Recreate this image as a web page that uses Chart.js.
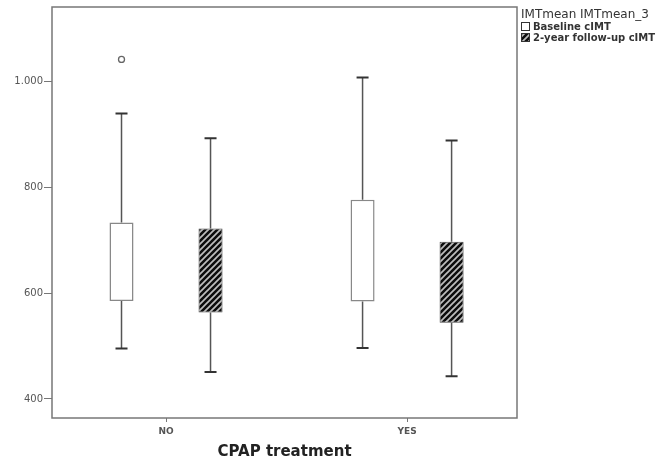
<!DOCTYPE html>
<html>
<head>
<meta charset="utf-8">
<script src="https://cdn.jsdelivr.net/npm/chart.js@4.4.0/dist/chart.umd.min.js"></script>
<style>
  html, body { margin: 0; background: #fff; }
  #contenedor { width: 668px; height: 463px; }
</style>
</head>
<body>
<div id="contenedor"><canvas id="grafica"></canvas></div>
<script>
const grupos = ['NO', 'YES'];
const posiciones = [0, 1];

// Baseline cIMT
const baseMin = [495, 496];
const baseQ1 = [585, 584];
const baseQ3 = [733, 776];
const baseMax = [939, 1007];
const baseAtipicos = [[1041], []];

// 2-year follow-up cIMT
const segMin = [451, 443];
const segQ1 = [563, 544];
const segQ3 = [722, 697];
const segMax = [892, 888];
const segAtipicos = [[], []];

const ticksY = [400, 600, 800, 1000];
const series = ['Baseline cIMT', '2-year follow-up cIMT'];
const tituloLeyenda = 'IMTmean IMTmean_3';

const fuente = 'DejaVu Sans';
const gris = '#777';

function rayado() {
    const n = 6;
    const c = document.createElement('canvas');
    c.width = n; c.height = n;
    const g = c.getContext('2d');
    g.fillStyle = '#0d0d0d';
    g.fillRect(0, 0, n, n);
    g.strokeStyle = '#bdbdbd';
    g.lineWidth = 1.7;
    g.beginPath();
    g.moveTo(-1, n + 1); g.lineTo(n + 1, -1);
    g.moveTo(-1, 1); g.lineTo(1, -1);
    g.moveTo(n - 1, n + 1); g.lineTo(n + 1, n - 1);
    g.stroke();
    return g.createPattern(c, 'repeat');
}
const patron = rayado();

// bigotes, atipicos, marco y leyenda
const cajas = {
    id: 'cajas',
    afterDatasetsDraw(chart) {
        const ctx = chart.ctx;
        const y = chart.scales.y;
        const grupo = [
            [baseMin, baseQ1, baseQ3, baseMax, baseAtipicos],
            [segMin, segQ1, segQ3, segMax, segAtipicos]
        ];
        grupo.forEach((s, i) => {
            chart.getDatasetMeta(i).data.forEach((bar, j) => {
                const x = bar.x;
                ctx.save();
                ctx.strokeStyle = '#555';
                ctx.lineWidth = 1.5;
                ctx.beginPath();
                ctx.moveTo(x, y.getPixelForValue(s[2][j]));
                ctx.lineTo(x, y.getPixelForValue(s[3][j]));
                ctx.moveTo(x, y.getPixelForValue(s[1][j]));
                ctx.lineTo(x, y.getPixelForValue(s[0][j]));
                ctx.stroke();
                ctx.strokeStyle = '#333';
                ctx.lineWidth = 2;
                ctx.beginPath();
                for (const v of [s[3][j], s[0][j]]) {
                    const py = y.getPixelForValue(v);
                    ctx.moveTo(x - 6, py);
                    ctx.lineTo(x + 6, py);
                }
                ctx.stroke();
                ctx.strokeStyle = '#666';
                ctx.lineWidth = 1.3;
                for (const v of s[4][j]) {
                    ctx.beginPath();
                    ctx.arc(x, y.getPixelForValue(v), 3, 0, Math.PI * 2);
                    ctx.stroke();
                }
                ctx.restore();
            });
        });
    },
    afterDraw(chart) {
        const ctx = chart.ctx;
        const a = chart.chartArea;
        ctx.save();
        ctx.strokeStyle = gris;
        ctx.lineWidth = 1.5;
        ctx.strokeRect(a.left, a.top, a.right - a.left, a.bottom - a.top);

        const lx = a.right + 4;
        ctx.fillStyle = '#333';
        ctx.textBaseline = 'middle';
        ctx.font = '12px ' + fuente;
        ctx.fillText(tituloLeyenda, lx, 15);
        ctx.font = 'bold 10px ' + fuente;
        series.forEach((nombre, i) => {
            const top = 22 + i * 11;
            ctx.fillStyle = i === 0 ? '#fff' : patron;
            ctx.fillRect(lx, top, 9, 9);
            ctx.strokeStyle = '#333';
            ctx.lineWidth = 1;
            ctx.strokeRect(lx + 0.5, top + 0.5, 8, 8);
            ctx.fillStyle = '#333';
            ctx.fillText(nombre, lx + 12, top + 5);
        });
        ctx.restore();
    }
};

const grafica = document.getElementById('grafica').getContext('2d');
new Chart(grafica, {
    type: 'bar',
    data: {
        datasets: [
            {
                label: series[0],
                data: posiciones.map((p, i) => ({ x: p, y: [baseQ1[i], baseQ3[i]] })),
                backgroundColor: '#fff',
                borderColor: '#888',
                borderWidth: 1.5,
                borderSkipped: false
            },
            {
                label: series[1],
                data: posiciones.map((p, i) => ({ x: p, y: [segQ1[i], segQ3[i]] })),
                backgroundColor: patron,
                borderColor: '#444',
                borderWidth: 1,
                borderSkipped: false
            }
        ]
    },
    options: {
        responsive: true,
        maintainAspectRatio: false,
        animation: false,
        categoryPercentage: 0.7386,
        barPercentage: 0.27,
        layout: { padding: { top: 7, right: 151, left: 0, bottom: 0 } },
        plugins: { legend: { display: false }, tooltip: { enabled: false } },
        scales: {
            x: {
                type: 'linear',
                offset: false,
                min: -0.473,
                max: 1.456,
                afterBuildTicks: (scale) => { scale.ticks = posiciones.map(v => ({ value: v })); },
                afterFit: (scale) => { scale.height = 45; },
                border: { display: false },
                grid: { drawOnChartArea: false, drawTicks: true, tickLength: 4, color: gris, offset: false },
                ticks: {
                    padding: 4,
                    color: '#555',
                    font: { family: fuente, size: 9, weight: 'bold' },
                    callback: (v) => grupos[posiciones.indexOf(v)]
                },
                title: {
                    display: true,
                    text: 'CPAP treatment',
                    color: '#222',
                    font: { family: fuente, size: 15, weight: 'bold' },
                    padding: { top: 0, bottom: 2 }
                }
            },
            y: {
                min: 364,
                max: 1140,
                afterBuildTicks: (scale) => { scale.ticks = ticksY.map(v => ({ value: v })); },
                afterFit: (scale) => { scale.width = 52; },
                border: { display: false },
                grid: { drawOnChartArea: false, drawTicks: true, tickLength: 8, color: gris },
                ticks: {
                    padding: 1,
                    color: '#555',
                    font: { family: fuente, size: 10 },
                    callback: (v) => v >= 1000 ? v.toLocaleString('de-DE') : String(v)
                }
            }
        }
    },
    plugins: [cajas]
});
</script>
</body>
</html>
